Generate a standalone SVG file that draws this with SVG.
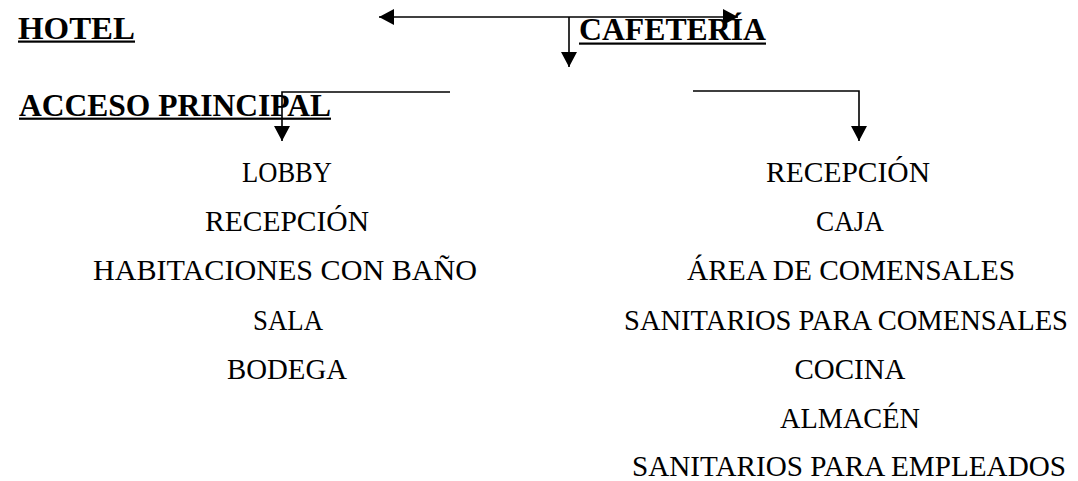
<svg xmlns="http://www.w3.org/2000/svg" width="1078" height="481" viewBox="0 0 1078 481">
<style>
.h{font-family:"Liberation Serif","Times New Roman",serif;font-weight:bold;font-size:31px;fill:#000}
.b{font-family:"Liberation Serif","Times New Roman",serif;font-size:30px;fill:#000;text-anchor:middle}
.s{font-size:28.5px}
.c{fill:none;stroke:#000;stroke-width:1.6}
.u{fill:#000}
</style>
<defs>
<marker id="ah" viewBox="0 0 15 16" refX="15" refY="8" markerWidth="15" markerHeight="16" markerUnits="userSpaceOnUse" orient="auto-start-reverse">
<path d="M0,0 L15,8 L0,16 z" fill="#000"/>
</marker>
</defs>
<rect width="1078" height="481" fill="#fff"/>
<g id="hotel">
<text class="h" x="18" y="38.5" textLength="117" lengthAdjust="spacingAndGlyphs">HOTEL</text>
<rect class="u" x="18" y="40.5" width="117" height="2.2"/>
</g>
<g id="acceso-principal">
<text class="h" x="19" y="115.5" textLength="312" lengthAdjust="spacingAndGlyphs">ACCESO PRINCIPAL</text>
<rect class="u" x="19" y="117.6" width="312" height="2.2"/>
</g>
<g id="cafeteria">
<text class="h" x="579" y="40" textLength="187" lengthAdjust="spacingAndGlyphs">CAFETERÍA</text>
<rect class="u" x="579" y="42.5" width="187" height="2.2"/>
</g>
<g id="hotel-list">
<text class="b" x="287" y="182" textLength="90" lengthAdjust="spacingAndGlyphs">LOBBY</text>
<text class="b" x="287" y="231" textLength="164" lengthAdjust="spacingAndGlyphs">RECEPCIÓN</text>
<text class="b" x="285" y="280" textLength="384" lengthAdjust="spacingAndGlyphs">HABITACIONES CON BAÑO</text>
<text class="b" x="288" y="330" textLength="70" lengthAdjust="spacingAndGlyphs">SALA</text>
<text class="b" x="287" y="379" textLength="120" lengthAdjust="spacingAndGlyphs">BODEGA</text>
</g>
<g id="cafeteria-list">
<text class="b" x="848" y="182" textLength="164" lengthAdjust="spacingAndGlyphs">RECEPCIÓN</text>
<text class="b" x="850" y="231" textLength="68" lengthAdjust="spacingAndGlyphs">CAJA</text>
<text class="b" x="851" y="280" textLength="328" lengthAdjust="spacingAndGlyphs">ÁREA DE COMENSALES</text>
<text class="b s" x="846" y="330" textLength="444" lengthAdjust="spacingAndGlyphs">SANITARIOS PARA COMENSALES</text>
<text class="b" x="850" y="379" textLength="111" lengthAdjust="spacingAndGlyphs">COCINA</text>
<text class="b" x="850" y="428" textLength="140" lengthAdjust="spacingAndGlyphs">ALMACÉN</text>
<text class="b" x="849" y="476" textLength="434" lengthAdjust="spacingAndGlyphs">SANITARIOS PARA EMPLEADOS</text>
</g>
<g id="connectors">
<path class="c" d="M379,17 H738" marker-start="url(#ah)" marker-end="url(#ah)"/>
<path class="c" d="M569,17 V67" marker-end="url(#ah)"/>
<path class="c" d="M450,92 H282 V141" marker-end="url(#ah)"/>
<path class="c" d="M693,91 H859 V141" marker-end="url(#ah)"/>
</g>
</svg>
